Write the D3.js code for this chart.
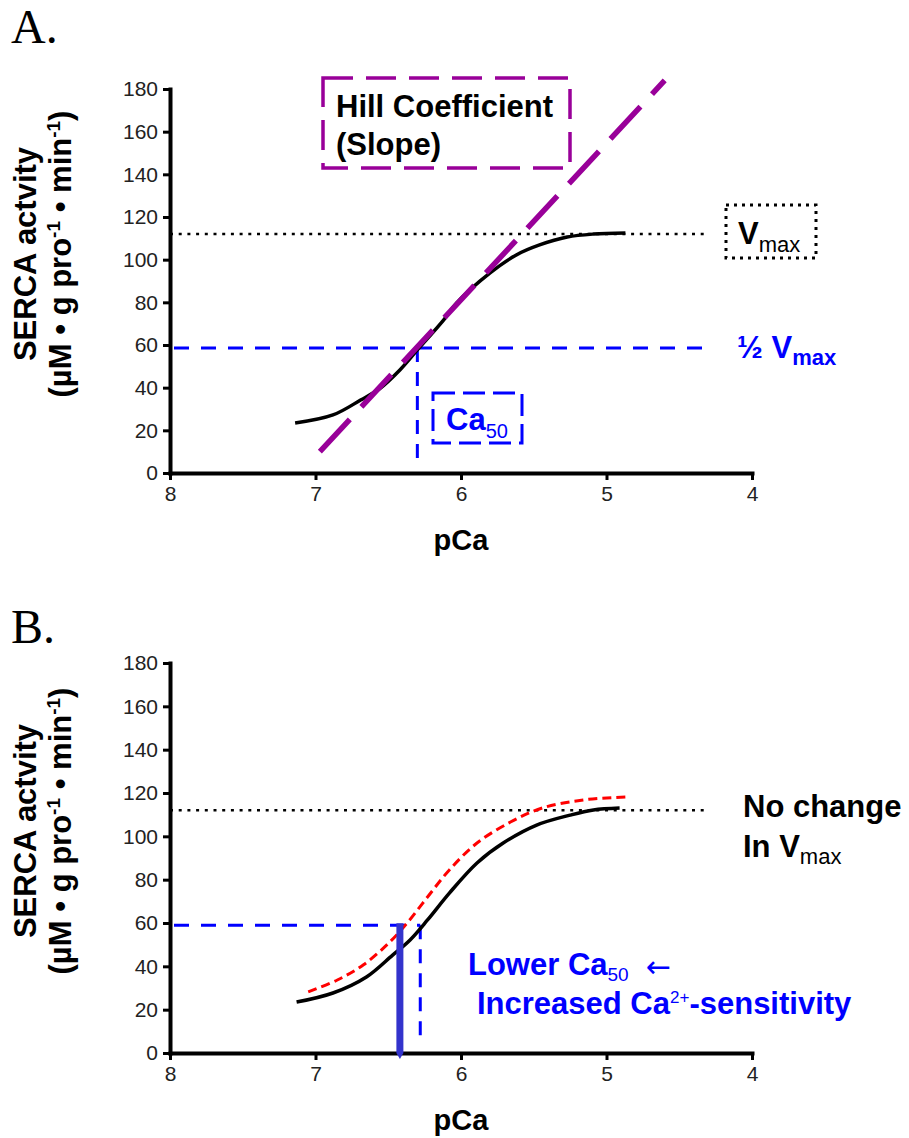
<!DOCTYPE html>
<html>
<head>
<meta charset="utf-8">
<script src="https://cdn.jsdelivr.net/npm/d3@7"></script>
<style>
  body { margin: 0; background: #fff; }
  svg text { font-family: "Liberation Sans", Arial, sans-serif; }
</style>
</head>
<body>
<svg id="chart" width="909" height="1138"></svg>
<script>
// axis ticks
var pcaTicks = [8, 7, 6, 5, 4];
var activityTicks = [0, 20, 40, 60, 80, 100, 120, 140, 160, 180];

// [pCa, activity]
var controlCurveA = [[7.14, 23.4], [6.88, 27.2], [6.69, 34.2], [6.56, 39.5], [6.42, 48.3], [6.30, 57.7],
  [6.12, 71.7], [6.03, 79.7], [5.80, 93.8], [5.62, 102.2], [5.46, 106.9], [5.27, 110.6], [5.09, 112.0], [4.87, 112.5]];
var controlCurveB = [[7.13, 23.5], [6.88, 27.7], [6.65, 35.1], [6.47, 45.2], [6.35, 52.2], [6.23, 61.4],
  [6.08, 73.8], [5.89, 87.7], [5.71, 96.9], [5.48, 105.2], [5.25, 109.8], [5.09, 112.2], [4.91, 113.1]];
var treatedCurveB = [[7.05, 28.2], [6.85, 33.7], [6.67, 40.7], [6.49, 51.2], [6.37, 60.0], [6.23, 72.0],
  [6.08, 84.5], [5.89, 96.9], [5.66, 106.6], [5.44, 113.1], [5.16, 116.8], [4.86, 118.2]];
var hillSlope = [[6.97, 10], [4.60, 184]];

var vmax = 112;
var halfVmaxA = 58.6, halfVmaxB = 59;
var ca50A = 6.30, ca50B = 6.28, lowerCa50 = 6.42;
var refLineEnd = 4.32;

var svg = d3.select("#chart");
var x = d3.scaleLinear().domain([8, 4]).range([170, 752]);

function addText(g, xPos, yPos, parts, opts) {
  // parts: [text, size, weight, dy]
  var t = g.append("text").attr("x", xPos).attr("y", yPos)
    .attr("fill", opts.fill || "#000");
  if (opts.anchor) t.attr("text-anchor", opts.anchor);
  if (opts.transform) t.attr("transform", opts.transform);
  parts.forEach(function (p) {
    t.append("tspan").text(p[0])
      .attr("font-size", p[1]).attr("font-weight", p[2]).attr("dy", p[3] || 0);
  });
  return t;
}

function drawPanel(top, bottom, letter, letterY) {
  var y = d3.scaleLinear().domain([0, 180]).range([bottom, top]);
  var g = svg.append("g");

  g.append("text").attr("x", 11).attr("y", letterY).text(letter)
    .style("font-family", "'Liberation Serif', 'Times New Roman', serif")
    .attr("font-size", 48);

  var yAxis = g.append("g").attr("transform", "translate(170,0)")
    .call(d3.axisLeft(y).tickValues(activityTicks).tickSize(7).tickSizeOuter(0).tickPadding(5));
  var xAxis = g.append("g").attr("transform", "translate(0," + bottom + ")")
    .call(d3.axisBottom(x).tickValues(pcaTicks).tickFormat(d3.format("d"))
      .tickSize(7).tickSizeOuter(0).tickPadding(6));
  [yAxis, xAxis].forEach(function (a) {
    a.select(".domain").attr("stroke", "#000").attr("stroke-width", 4).attr("stroke-linecap", "square");
    a.selectAll(".tick line").attr("stroke", "#000").attr("stroke-width", 3);
    a.selectAll(".tick text").attr("font-size", 21).attr("fill", "#222")
      .style("font-family", "'Liberation Sans', Arial, sans-serif");
  });

  var cy = (top + bottom) / 2 - 27;
  addText(g, 0, 0, [["SERCA actvity", 31, "bold"]],
    { anchor: "middle", transform: "translate(36," + cy + ") rotate(-90)" });
  addText(g, 0, 0, [["(µM • g pro", 31, "bold"], ["-1", 19, "bold", -11], [" • min", 31, "bold", 11],
    ["-1", 19, "bold", -11], [")", 31, "bold", 11]],
    { anchor: "middle", transform: "translate(71," + cy + ") rotate(-90)" });

  addText(g, x(6), bottom + 77, [["pCa", 29, "bold"]], { anchor: "middle" });

  return { g: g, y: y };
}

var line = function (y) {
  return d3.line().x(function (d) { return x(d[0]); }).y(function (d) { return y(d[1]); })
    .curve(d3.curveCatmullRom.alpha(0.5));
};

// ---------- Panel A ----------
var A = drawPanel(89, 473, "A.", 43);
var yA = A.y, gA = A.g;

gA.append("line").attr("x1", x(8)).attr("x2", x(refLineEnd)).attr("y1", yA(vmax)).attr("y2", yA(vmax))
  .attr("stroke", "#000").attr("stroke-width", 2.5).attr("stroke-dasharray", "3,5.7");
gA.append("line").attr("x1", x(8) + 4).attr("x2", x(refLineEnd)).attr("y1", yA(halfVmaxA)).attr("y2", yA(halfVmaxA))
  .attr("stroke", "#0000ff").attr("stroke-width", 3).attr("stroke-dasharray", "15,12");
gA.append("line").attr("x1", x(ca50A)).attr("x2", x(ca50A)).attr("y1", yA(halfVmaxA)).attr("y2", yA(2.8))
  .attr("stroke", "#0000ff").attr("stroke-width", 3).attr("stroke-dasharray", "14,10");

gA.append("path").datum(controlCurveA).attr("d", line(yA))
  .attr("fill", "none").attr("stroke", "#000").attr("stroke-width", 3.5);

gA.append("path").datum(hillSlope).attr("d", line(yA))
  .attr("fill", "none").attr("stroke", "#990099").attr("stroke-width", 5.5).attr("stroke-dasharray", "44,17");

// Hill coefficient box
gA.append("rect").attr("x", 323).attr("y", 78).attr("width", 247).attr("height", 90)
  .attr("fill", "none").attr("stroke", "#990099").attr("stroke-width", 3.5).attr("stroke-dasharray", "30,13");
addText(gA, 336, 117, [["Hill Coefficient", 31, "bold"]], {});
addText(gA, 336, 155, [["(Slope)", 31, "bold"]], {});

// Vmax box
gA.append("rect").attr("x", 726).attr("y", 205).attr("width", 90).attr("height", 53)
  .attr("fill", "none").attr("stroke", "#000").attr("stroke-width", 3).attr("stroke-dasharray", "3,5");
addText(gA, 738, 244, [["V", 31, "bold"], ["max", 22, "normal", 8]], {});

addText(gA, 737, 358, [["½ V", 31, "bold"], ["max", 22, "bold", 7]], { fill: "#0000ff" });

// Ca50 box
gA.append("rect").attr("x", 433).attr("y", 393).attr("width", 89).attr("height", 50)
  .attr("fill", "none").attr("stroke", "#0000ff").attr("stroke-width", 3).attr("stroke-dasharray", "22,8");
addText(gA, 446, 430, [["Ca", 31, "bold"], ["50", 20, "normal", 8]], { fill: "#0000ff" });

// ---------- Panel B ----------
var B = drawPanel(663, 1053, "B.", 643);
var yB = B.y, gB = B.g;

gB.append("line").attr("x1", x(8)).attr("x2", x(refLineEnd)).attr("y1", yB(vmax)).attr("y2", yB(vmax))
  .attr("stroke", "#000").attr("stroke-width", 2.5).attr("stroke-dasharray", "3,5.7");
gB.append("line").attr("x1", x(8) + 4).attr("x2", x(ca50B)).attr("y1", yB(halfVmaxB)).attr("y2", yB(halfVmaxB))
  .attr("stroke", "#0000ff").attr("stroke-width", 3).attr("stroke-dasharray", "15,12");
gB.append("line").attr("x1", x(ca50B)).attr("x2", x(ca50B)).attr("y1", yB(halfVmaxB)).attr("y2", yB(3.7))
  .attr("stroke", "#0000ff").attr("stroke-width", 3).attr("stroke-dasharray", "14,10");

gB.append("path").datum(controlCurveB).attr("d", line(yB))
  .attr("fill", "none").attr("stroke", "#000").attr("stroke-width", 3.5);
gB.append("path").datum(treatedCurveB).attr("d", line(yB))
  .attr("fill", "none").attr("stroke", "#ff0000").attr("stroke-width", 3).attr("stroke-dasharray", "9,5");

// shifted Ca50 marker
var bx = x(lowerCa50);
gB.append("line").attr("x1", bx).attr("x2", bx).attr("y1", yB(halfVmaxB) - 2).attr("y2", yB(0))
  .attr("stroke", "#3333cc").attr("stroke-width", 7);
gB.append("path").attr("d", "M" + (bx - 3.5) + "," + yB(0) + "L" + (bx + 3.5) + "," + yB(0) + "L" + bx + "," + (yB(0) + 6) + "Z")
  .attr("fill", "#3333cc");

addText(gB, 743, 817, [["No change", 31, "bold"]], {});
addText(gB, 743, 857, [["In V", 31, "bold"], ["max", 22, "normal", 7]], {});

addText(gB, 468, 975, [["Lower Ca", 31, "bold"], ["50", 19, "normal", 6]], { fill: "#0000ff" });
gB.append("text").attr("x", 646).attr("y", 977).text("←").attr("fill", "#0000ff")
  .attr("font-size", 30).style("font-family", "'DejaVu Sans', sans-serif");
addText(gB, 477, 1014, [["Increased Ca", 31, "bold"], ["2+", 17, "normal", -11], ["-sensitivity", 31, "bold", 11]],
  { fill: "#0000ff" });
</script>
</body>
</html>
